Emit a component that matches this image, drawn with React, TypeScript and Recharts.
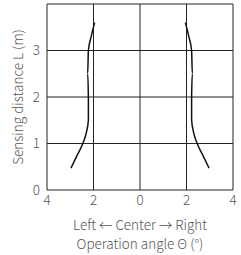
import { LineChart, Line, XAxis, YAxis, CartesianGrid } from "recharts"

// sensing distance (m) vs operation angle (°), left side negative
const leftAngle = [-2.97, -2.7, -2.46, -2.3, -2.22, -2.22, -2.25, -2.22, -2.1, -1.95]
const leftDist = [0.47, 0.75, 1.0, 1.25, 1.5, 2.0, 2.5, 3.0, 3.3, 3.6]
const rightAngle = [2.97, 2.7, 2.46, 2.3, 2.22, 2.22, 2.25, 2.22, 2.1, 1.95]
const rightDist = [0.47, 0.75, 1.0, 1.25, 1.5, 2.0, 2.5, 3.0, 3.3, 3.6]

const xTicks = [-4, -2, 0, 2, 4]
const yTicks = [0, 1, 2, 3, 4]
const yLabels = ["0", "1", "2", "3", ""]

const leftData = leftAngle.map((x, i) => ({ x, y: leftDist[i] }))
const rightData = rightAngle.map((x, i) => ({ x, y: rightDist[i] }))

const font = "'Noto Sans CJK JP', 'Noto Sans', sans-serif"
const tick = { fontSize: 13.5, fill: "#555", fontFamily: font, fontWeight: 300 }

export default function App() {
  return (
    <div style={{ position: "absolute", left: 0, top: 0, width: 241, height: 255, background: "#fff", fontFamily: font, fontWeight: 300 }}>
      <LineChart width={241} height={255} margin={{ top: 4, right: 8, left: 0, bottom: 45 }}>
        <CartesianGrid stroke="#222" strokeWidth={1} />
        <XAxis
          dataKey="x"
          type="number"
          domain={[-4, 4]}
          ticks={xTicks}
          tickFormatter={(v) => String(Math.abs(v))}
          tick={tick}
          tickLine={false}
          axisLine={false}
          tickSize={0}
          tickMargin={5}
          height={20}
          interval={0}
        />
        <YAxis
          type="number"
          domain={[0, 4]}
          ticks={yTicks}
          tickFormatter={(v) => yLabels[yTicks.indexOf(v)]}
          tick={tick}
          tickLine={false}
          axisLine={false}
          tickSize={0}
          tickMargin={7}
          width={47}
          interval={0}
          label={{ value: "Sensing distance L (m)", angle: -90, position: "center", dx: -5, style: { fontSize: 13.5, fill: "#555", fontFamily: font, fontWeight: 300 } }}
        />
        <Line data={leftData} dataKey="y" type="monotone" stroke="#111" strokeWidth={1.5} dot={false} isAnimationActive={false} />
        <Line data={rightData} dataKey="y" type="monotone" stroke="#111" strokeWidth={1.5} dot={false} isAnimationActive={false} />
      </LineChart>
      <div style={{ position: "absolute", left: 47, width: 186, top: 215, textAlign: "center", fontSize: 13.5, color: "#555", lineHeight: "19px" }}>
        Left ← Center → Right
        <br />
        Operation angle Θ (°)
      </div>
    </div>
  )
}
